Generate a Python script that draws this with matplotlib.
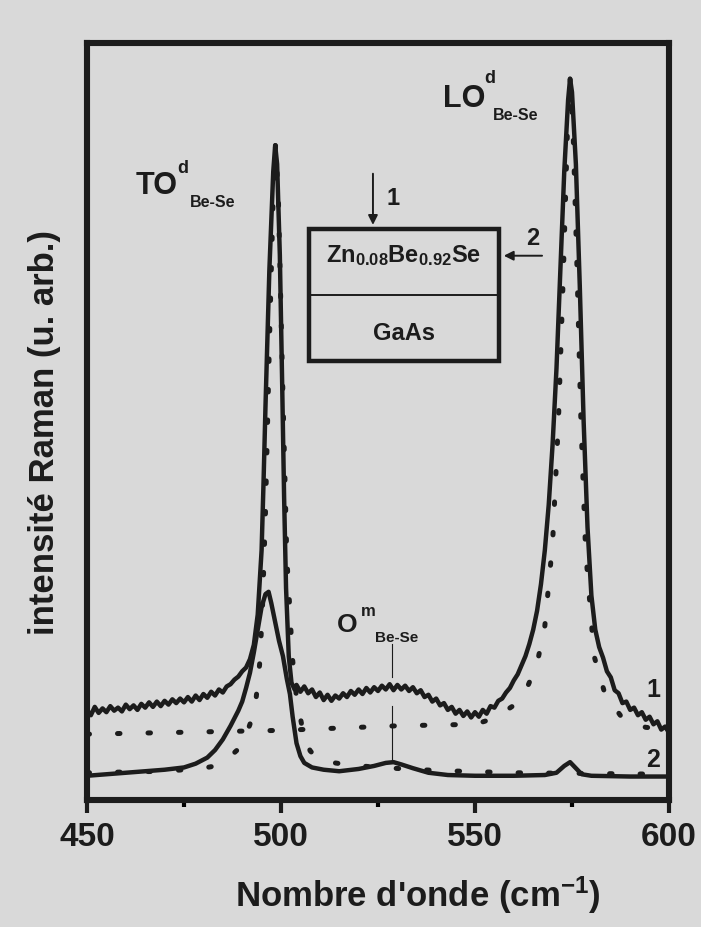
import numpy as np
import matplotlib
matplotlib.use('Agg')
import matplotlib.pyplot as plt
from matplotlib.patches import Rectangle

plt.rcParams['font.family'] = ['Liberation Sans', 'DejaVu Sans']
plt.rcParams['font.weight'] = 'bold'
plt.rcParams['mathtext.fontset'] = 'custom'
plt.rcParams['mathtext.rm'] = 'Liberation Sans:bold'
plt.rcParams['mathtext.it'] = 'Liberation Sans:bold'
plt.rcParams['mathtext.bf'] = 'Liberation Sans:bold'

INK = '#1c1c1c'
PAPER = '#d9d9d9'

# --- measured spectrum 1 (upper, noisy) ---
wn1 = [450, 451, 452, 453, 454, 455, 456, 457, 458, 459, 460, 461, 462, 463, 464, 465,
       466, 467, 468, 469, 470, 471, 472, 473, 474, 475, 476, 477, 478, 479, 480, 481,
       482, 483, 484, 485, 486, 487, 488, 489, 490, 491, 492, 493, 494, 495, 495.5, 496,
       497, 498, 498.5, 499, 499.7, 500.3, 500.8, 501.3, 502, 502.7, 503.5,
       504, 505, 506, 507, 508, 509, 510, 511, 512, 513, 514, 515, 516, 517, 518, 519,
       520, 521, 522, 523, 524, 525, 526, 527, 528, 529, 530, 531, 532, 533, 534, 535,
       536, 537, 538, 539, 540, 541, 542, 543, 544, 545, 546, 547, 548, 549, 550, 551,
       552, 553, 554, 555, 556, 557, 558, 559, 560, 561, 562, 563, 564, 565, 566, 567,
       568, 569, 570, 571, 572, 573, 574, 574.5, 575, 576, 577, 578, 579, 580, 581, 582,
       583, 584, 585, 586, 587, 588, 589, 590, 591, 592, 593, 594, 595, 596, 597, 598,
       599, 600]
int1 = [11.9, 11.2, 12.3, 11.5, 12.1, 11.6, 12.4, 11.8, 12.2, 11.7, 12.6, 12.0, 12.5, 11.9, 12.7, 12.2,
        12.9, 12.3, 13.0, 12.4, 13.1, 12.6, 13.3, 12.8, 13.4, 12.9, 13.6, 13.0, 13.8, 13.2, 14.0, 13.5,
        14.3, 13.8, 14.6, 14.2, 15.0, 15.3, 15.9, 16.3, 17.0, 17.5, 18.6, 20.5, 24.5, 33.0, 42.0, 52.0,
        70.0, 83.0, 86.5, 84.0, 72.0, 55.0, 40.0, 28.0, 19.0, 15.5, 14.6,
        15.2, 14.3, 15.0, 14.1, 14.6, 13.6, 14.2, 13.2, 13.9, 13.1, 13.8, 13.4, 14.1, 13.6, 14.4, 13.9,
        14.6, 14.0, 14.8, 14.2, 14.9, 14.4, 15.1, 14.6, 15.3, 14.5, 15.2, 14.6, 15.1, 14.4, 14.9, 14.1,
        14.5, 13.6, 13.9, 13.0, 13.4, 12.5, 12.8, 11.9, 12.3, 11.4, 11.9, 11.1, 11.7, 10.9, 11.6, 11.0,
        11.9, 11.4, 12.4, 12.2, 13.1, 13.4, 14.2, 14.8, 15.8, 16.6, 17.8, 19.0, 20.6, 22.5, 25.0, 28.5,
        33.0, 39.0, 47.0, 57.0, 70.0, 83.0, 92.5, 95.3, 93.5, 84.0, 68.0, 50.0, 36.0, 27.0, 22.5, 20.2,
        18.8, 17.0, 16.2, 14.5, 14.1, 12.8, 13.0, 11.9, 12.2, 11.2, 11.6, 10.6, 11.0, 10.0, 10.4, 9.3,
        9.7, 8.9]

# --- measured spectrum 2 (lower, smooth) ---
wn2 = [450, 455, 460, 465, 470, 475, 478, 481, 483, 485, 487, 489, 490, 491, 492, 493, 494, 495,
       496, 496.8, 497.5, 498.5, 499.5, 500.5, 501.5, 502.3, 503, 504, 505, 506, 508, 511, 515,
       520, 524, 527, 529, 531, 534, 538, 543, 550, 560, 568, 571, 573, 574.5, 576, 577.5, 580,
       590, 600]
int2 = [3.2, 3.4, 3.6, 3.8, 4.0, 4.3, 4.8, 5.6, 6.6, 8.0, 9.8, 11.8, 13.0, 14.8, 16.8, 19.5, 22.5, 25.5,
        27.2, 27.5, 26.0, 23.5, 21.0, 19.0, 16.0, 14.0, 11.0, 7.5, 5.8, 4.9, 4.3, 4.0, 3.8,
        4.1, 4.5, 4.9, 5.0, 4.7, 4.2, 3.6, 3.3, 3.2, 3.2, 3.3, 3.6, 4.5, 5.0, 4.2, 3.4, 3.2,
        3.1, 3.1]

# --- calculated spectrum, geometry 1 (dotted, LO mode) ---
wn_calc1 = [450, 460, 470, 480, 490, 500, 510, 520, 530, 540, 550, 555, 560, 563, 566, 568, 570,
            571.5, 572.8, 573.8, 574.5, 575.3, 576.3, 577.3, 578.5, 580.7, 583.5, 588, 594, 600]
int_calc1 = [8.7, 8.8, 8.9, 9.0, 9.1, 9.2, 9.4, 9.6, 9.8, 9.9, 10.0, 10.8, 12.5, 14.3, 18.0, 23.0, 34.0,
             50.0, 70.0, 88.0, 95.3, 88.0, 70.0, 50.0, 33.0, 19.0, 14.0, 10.8, 9.6, 9.3]

# --- calculated spectrum, geometry 2 (dotted, TO mode) ---
wn_calc2 = [450, 470, 480, 483, 487, 490, 492, 493.5, 494.5, 495.2, 496, 497, 498, 498.6, 499.3,
            500.2, 501.5, 502.3, 502.9, 504, 505.5, 507.5, 510, 516.5, 525, 540, 560, 600]
int_calc2 = [3.6, 3.8, 4.2, 4.5, 5.8, 7.2, 10.0, 13.0, 18.0, 25.0, 38.0, 60.0, 80.0, 86.5, 80.0,
             60.0, 32.0, 25.0, 19.0, 13.5, 9.5, 6.5, 5.2, 4.7, 4.3, 3.9, 3.6, 3.4]

x_ticks = [450, 500, 550, 600]
x_minor = [475, 525, 575]

fig = plt.figure(figsize=(7.01, 9.28), dpi=100, facecolor=PAPER)
ax = fig.add_axes([87 / 701, 1 - 801 / 928, 582 / 701, 757 / 928], facecolor=PAPER)

dots = dict(color=INK, linewidth=3.6, linestyle=(0, (0.5, 5.6)), dash_capstyle='round')
ax.plot(wn_calc1, int_calc1, **dots)
ax.plot(wn_calc2, int_calc2, **dots)
ax.plot(wn1, int1, color=INK, linewidth=3.2, solid_joinstyle='round')
ax.plot(wn2, int2, color=INK, linewidth=3.2, solid_joinstyle='round')

ax.set_xlim(450, 600)
ax.set_ylim(0, 100)
ax.set_xticks(x_ticks)
ax.set_xticks(x_minor, minor=True)
ax.set_yticks([])
ax.tick_params(axis='x', which='major', direction='out', length=9, width=3, pad=6,
               labelsize=24, colors=INK)
ax.tick_params(axis='x', which='minor', direction='out', length=5, width=3)
for s in ax.spines.values():
    s.set_linewidth(4.4)
    s.set_color(INK)

# peak labels
ax.text(468, 81.2, 'TO', fontsize=22, ha='center', va='center', color=INK)
ax.text(474.6, 83.6, 'd', fontsize=13, ha='center', va='center', color=INK)
ax.text(476.4, 79.0, 'Be-Se', fontsize=11.5, ha='left', va='center', color=INK)

ax.text(547.3, 92.7, 'LO', fontsize=22, ha='center', va='center', color=INK)
ax.text(553.9, 95.4, 'd', fontsize=13, ha='center', va='center', color=INK)
ax.text(554.6, 90.5, 'Be-Se', fontsize=11.5, ha='left', va='center', color=INK)

ax.text(517.1, 23.2, 'O', fontsize=19, ha='center', va='center', color=INK)
ax.text(522.4, 25.0, 'm', fontsize=12, ha='center', va='center', color=INK)
ax.text(524.2, 21.5, 'Be-Se', fontsize=11, ha='left', va='center', color=INK)
ax.plot([528.6, 528.6], [20.6, 16.2], color=INK, linewidth=0.8)
ax.plot([528.6, 528.6], [12.4, 5.0], color=INK, linewidth=0.8)

ax.text(595.9, 14.7, '1', fontsize=18, ha='center', va='center', color=INK)
ax.text(595.9, 5.4, '2', fontsize=18, ha='center', va='center', color=INK)

# inset: sample geometry
ax.add_patch(Rectangle((507.2, 58.0), 49.0, 17.4, fill=False, edgecolor=INK, linewidth=3.2))
ax.plot([507.2, 556.2], [66.7, 66.7], color=INK, linewidth=1.4)
ax.text(531.7, 72.0, r'$\mathrm{Zn_{0.08}Be_{0.92}Se}$', fontsize=17, ha='center', va='center',
        color=INK)
ax.text(531.7, 61.8, 'GaAs', fontsize=17, ha='center', va='center', color=INK)
ax.annotate('', xy=(523.7, 75.6), xytext=(523.7, 83.1),
            arrowprops=dict(arrowstyle='-|>', color=INK, lw=1.4, mutation_scale=14))
ax.text(528.9, 79.6, '1', fontsize=17, ha='center', va='center', color=INK)
ax.annotate('', xy=(556.7, 71.9), xytext=(568.0, 71.9),
            arrowprops=dict(arrowstyle='-|>', color=INK, lw=1.4, mutation_scale=14))
ax.text(565.0, 74.3, '2', fontsize=17, ha='center', va='center', color=INK)

fig.text(45 / 701, 1 - 433 / 928, 'intensité Raman (u. arb.)', rotation=90, fontsize=25,
         ha='center', va='center', color=INK)
fig.text(418 / 701, 1 - 895 / 928, "Nombre d'onde (cm$^{-1}$)", fontsize=25,
         ha='center', va='center', color=INK)

fig.savefig('out.png', dpi=100, facecolor=PAPER)
